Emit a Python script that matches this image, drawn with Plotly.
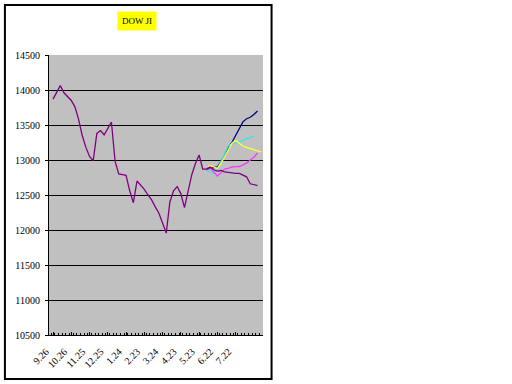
import plotly.graph_objects as go

# Category labels (every 6 days, 2007-09-26 ... 2008-09-02)
dates = ["9.26", "10.2", "10.8", "10.14", "10.20", "10.26", "11.1", "11.7", "11.13", "11.19",
         "11.25", "12.1", "12.7", "12.13", "12.19", "12.25", "12.31", "1.6", "1.12", "1.18",
         "1.24", "1.30", "2.5", "2.11", "2.17", "2.23", "2.29", "3.6", "3.12", "3.18",
         "3.24", "3.30", "4.5", "4.11", "4.17", "4.23", "4.29", "5.5", "5.11", "5.17",
         "5.23", "5.29", "6.4", "6.10", "6.16", "6.22", "6.28", "7.4", "7.10", "7.16",
         "7.22", "7.28", "8.3", "8.9", "8.15", "8.21", "8.27", "9.2"]
tick_labels = ["9.26", "10.26", "11.25", "12.25", "1.24", "2.23", "3.24", "4.23", "5.23", "6.22", "7.22"]

dow_actual = [13870, 13970, 14062, 13960, 13900, 13850, 13760, 13580, 13350, 13180,
              13050, 12990, 13380, 13420, 13360, 13450, 13540, 12980, 12800, 12790,
              12780, 12560, 12390, 12700, 12640, 12580, 12500, 12430, 12330, 12240,
              12100, 11955, 12400, 12560, 12620, 12520, 12320, 12560, 12790, 12950,
              13071, 12870, 12870, 12900, 12860, 12840, 12850, 12830, 12820, 12815,
              12810, 12810, 12790, 12760, 12660, 12650, 12635]

forecast_start = "6.4"
forecast_navy = [12870, 12880, 12880, 12900, 12980, 13060, 13180, 13250, 13350, 13460,
                 13545, 13590, 13610, 13650, 13700]
forecast_cyan = [12850, 12830, 12810, 12870, 12980, 13100, 13200, 13230, 13240, 13250,
                 13280, 13300, 13320, 13345]
forecast_yellow = [12880, 12920, 12900, 12880, 12950, 13050, 13150, 13240, 13280, 13240,
                   13200, 13180, 13160, 13140, 13130, 13115]
forecast_magenta = [12880, 12890, 12830, 12770, 12820, 12870, 12880, 12900, 12905, 12905,
                    12930, 12955, 13000, 13040, 13100]

y_ticks = [10500, 11000, 11500, 12000, 12500, 13000, 13500, 14000, 14500]

idx = {d: i for i, d in enumerate(dates)}
s0 = idx[forecast_start]

fig = go.Figure()

def add(vals, start, color, width):
    fig.add_trace(go.Scatter(
        x=list(range(start, start + len(vals))), y=vals, mode="lines",
        line=dict(color=color, width=width), showlegend=False, hoverinfo="skip"))

add(forecast_navy, s0, "#000080", 1.3)
add(forecast_cyan, s0, "#33E6E6", 1.3)
add(forecast_yellow, s0, "#FFFF33", 1.3)
add(forecast_magenta, s0, "#FF33FF", 1.3)
add(dow_actual, 0, "#800080", 1.3)

font = dict(family="Liberation Serif", size=10, color="black")

fig.update_layout(
    width=512, height=384,
    margin=dict(l=49, r=249, t=55, b=49),
    paper_bgcolor="white",
    plot_bgcolor="#C0C0C0",
    font=font,
    xaxis=dict(
        range=[-1.1, 57.5],
        tickmode="array",
        tickvals=[idx[t] for t in tick_labels],
        ticktext=tick_labels,
        tickangle=-45,
        ticks="inside", ticklen=3, tickcolor="black",
        minor=dict(ticks="inside", ticklen=2, tickcolor="black", dtick=1, tick0=0.5, showgrid=False),
        showgrid=False, zeroline=False,
        showline=True, linecolor="black", linewidth=1,
        tickfont=dict(family="Liberation Serif", size=10),
        ticklabelshift=-7,
        ticklabelstandoff=6,
    ),
    yaxis=dict(
        range=[y_ticks[0], y_ticks[-1]],
        tickmode="array", tickvals=y_ticks,
        ticktext=[str(v) for v in y_ticks],
        ticks="outside", ticklen=3, tickcolor="black",
        showgrid=True, gridcolor="black", gridwidth=1,
        zeroline=False,
        showline=True, linecolor="black", linewidth=1,
        tickfont=dict(family="Liberation Serif", size=10),
        ticklabelstandoff=3,
    ),
    shapes=[dict(type="rect", xref="paper", yref="paper",
                 x0=-0.206, x1=1.04, y0=-0.157, y1=1.179,
                 line=dict(color="black", width=2), fillcolor="rgba(0,0,0,0)", layer="above")],
    annotations=[dict(text="DOW JI", xref="paper", yref="paper", x=0.41, y=1.12,
                      yanchor="middle", showarrow=False, bgcolor="#FFFF00",
                      font=dict(family="Liberation Serif", size=9, color="black"),
                      borderpad=4)],
)

fig.write_html("out.html")
